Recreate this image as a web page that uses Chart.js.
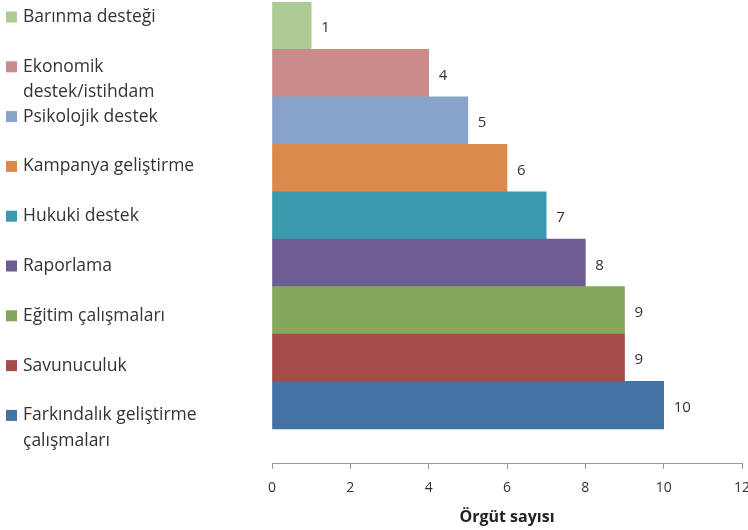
<!DOCTYPE html>
<html>
<head>
<meta charset="utf-8">
<script src="https://cdn.jsdelivr.net/npm/chart.js@4/dist/chart.umd.min.js"></script>
<style>
  html, body { margin: 0; padding: 0; background: #ffffff; }
  #wrap { width: 748px; height: 530px; position: relative; }
</style>
</head>
<body>
<div id="wrap"><canvas id="c" width="748" height="530"></canvas></div>
<script>
// Categories, top to bottom
const categories = [
  ["Barınma desteği"],
  ["Ekonomik", "destek/istihdam"],
  ["Psikolojik destek"],
  ["Kampanya geliştirme"],
  ["Hukuki destek"],
  ["Raporlama"],
  ["Eğitim çalışmaları"],
  ["Savunuculuk"],
  ["Farkındalık geliştirme", "çalışmaları"]
];
const values = [1, 4, 5, 6, 7, 8, 9, 9, 10];
const barColors = [
  "#AECA95", "#C98C8B", "#87A3CA", "#DB8A4B", "#3A9BAE",
  "#6E5C94", "#83A85C", "#A54B4B", "#4372A4"
];
const xTicks = [0, 2, 4, 6, 8, 10, 12];
const axisTitle = "Örgüt sayısı";

const FONT = "'Open Sans', 'DejaVu Sans', sans-serif";
const TEXT = "#333333";

const legendPlugin = {
  id: 'leftLegend',
  afterDraw(chart) {
    const ctx = chart.ctx;
    ctx.save();
    ctx.font = "17.5px " + FONT;
    ctx.textBaseline = "middle";
    ctx.textAlign = "left";
    const y0 = 17, step = 49.8, lineH = 25.5;
    categories.forEach((lines, i) => {
      const y = y0 + i * step;
      ctx.fillStyle = barColors[i];
      ctx.fillRect(6, y - 5.5, 11, 11);
      ctx.fillStyle = TEXT;
      lines.forEach((t, j) => ctx.fillText(t, 23, y + j * lineH));
    });
    ctx.restore();
  }
};

const valueLabelPlugin = {
  id: 'valueLabels',
  afterDatasetsDraw(chart) {
    const ctx = chart.ctx;
    const meta = chart.getDatasetMeta(0);
    ctx.save();
    ctx.font = "15px " + FONT;
    ctx.fillStyle = TEXT;
    ctx.textBaseline = "middle";
    ctx.textAlign = "left";
    meta.data.forEach((bar, i) => {
      ctx.fillText(String(values[i]), bar.x + 10, bar.y + 2.5);
    });
    ctx.restore();
  }
};

new Chart(document.getElementById('c'), {
  type: 'bar',
  data: {
    datasets: [{
      data: values.map((v, i) => ({ x: v, y: i })),
      backgroundColor: barColors,
      borderWidth: 0,
      barPercentage: 1.0,
      categoryPercentage: 1.0
    }]
  },
  options: {
    indexAxis: 'y',
    responsive: false,
    animation: false,
    devicePixelRatio: 1,
    layout: { padding: { left: 272, right: 6, top: 2, bottom: 0 } },
    plugins: {
      legend: { display: false },
      tooltip: { enabled: false }
    },
    scales: {
      y: {
        type: 'linear',
        reverse: true,
        offset: false,
        min: -0.5,
        max: 9.22,
        display: false,
        afterBuildTicks(scale) { scale.ticks = values.map((v, i) => ({ value: i })); }
      },
      x: {
        type: 'linear',
        min: 0,
        max: 12,
        afterBuildTicks(scale) { scale.ticks = xTicks.map(v => ({ value: v })); },
        afterFit(scale) { scale.paddingRight = 0; scale.paddingLeft = 0; },
        grid: {
          display: true,
          drawOnChartArea: false,
          drawTicks: true,
          tickLength: 6,
          color: "#9a9a9a",
          lineWidth: 1
        },
        border: { display: true, color: "#9a9a9a", width: 1 },
        ticks: {
          padding: 11,
          color: TEXT,
          font: { family: FONT, size: 14 },
          maxRotation: 0
        },
        title: {
          display: true,
          text: axisTitle,
          color: "#222222",
          font: { family: FONT, size: 16, weight: 'bold' },
          padding: { top: 0, bottom: 3 }
        }
      }
    }
  },
  plugins: [legendPlugin, valueLabelPlugin]
});
</script>
</body>
</html>
